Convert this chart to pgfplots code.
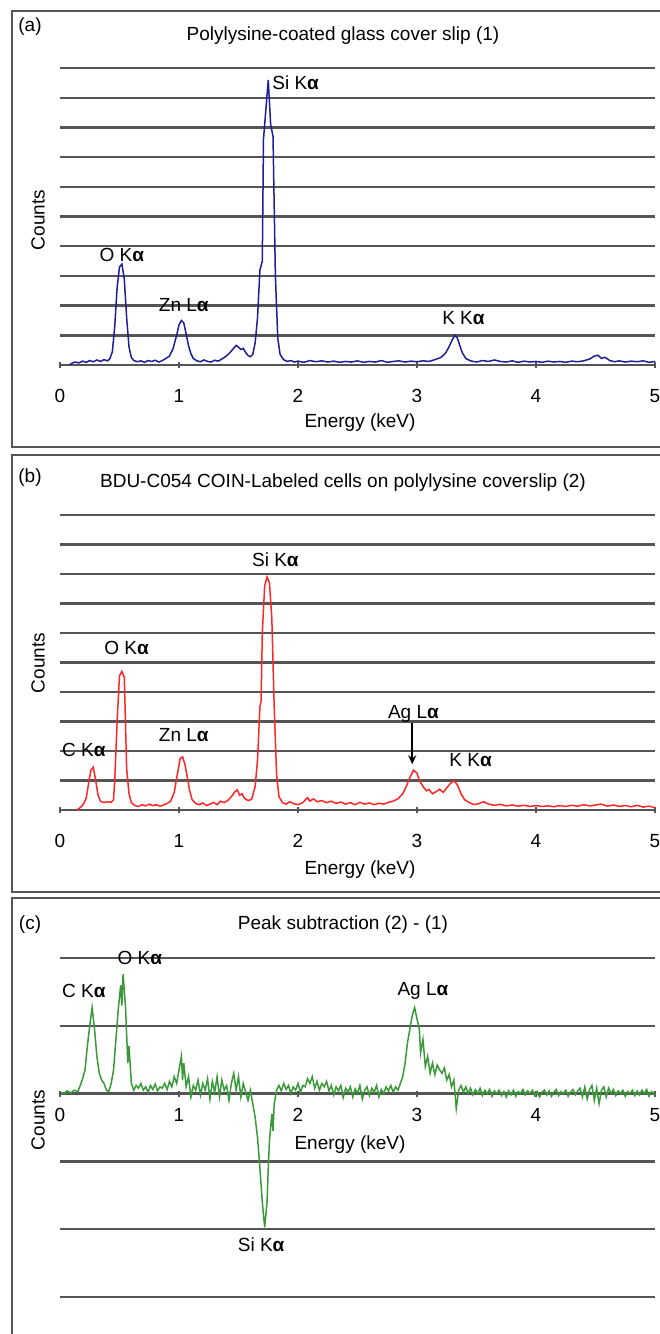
\documentclass[border=0pt]{standalone}
\usepackage{fontspec}
\setmainfont{Liberation Sans}
\usepackage{pgfplots}
\pgfplotsset{compat=1.18}
\usetikzlibrary{arrows.meta}
\definecolor{gridc}{HTML}{555555}
\definecolor{bluec}{HTML}{1E1E9A}
\definecolor{redc}{HTML}{FF2626}
\definecolor{greenc}{HTML}{3A9A3A}
\newcommand{\lab}{\fontsize{19bp}{21bp}\selectfont}
\pgfplotsset{panel/.style={
  scale only axis, width=595bp, clip=false,
  xmin=0, xmax=5,
  axis x line=middle, axis y line=left,
  y axis line style={draw=none},
  x axis line style={-, draw=gridc, line width=2.4bp},
  xtick={0,1,2,3,4,5},
  hide obscured x ticks=false,
  xtick style={draw=gridc, line width=1.4bp},
  ytick style={draw=none},
  yticklabels={},
  major tick length=6bp,
  ymajorgrids, grid style={draw=gridc, line width=2.4bp},
  /pgf/number format/assume math mode=true,
  xticklabel style={font=\lab, anchor=center},
}}
\begin{document}
\begin{tikzpicture}
\useasboundingbox (0bp,0bp) rectangle (660bp,-1334bp);
% frames
\draw[gridc, line width=1.8bp] (12bp,-11bp) rectangle (700bp,-447bp);
\draw[gridc, line width=1.8bp] (12bp,-455bp) rectangle (700bp,-892bp);
\draw[gridc, line width=1.8bp] (12bp,-898bp) rectangle (700bp,-1400bp);

% ---------- (a)
\begin{axis}[panel, at={(60bp,-365bp)}, anchor=south west, height=297bp,
  ymin=0, ymax=10, ytick={1,2,...,10},
  xticklabel style={yshift=-28bp}]
\addplot[bluec, line width=1.5bp] coordinates {
(0.08,0.00)(0.10,0.06)(0.13,0.10)(0.16,0.07)(0.19,0.13)(0.22,0.09)(0.25,0.15)(0.28,0.11)(0.31,0.17)(0.34,0.12)
(0.37,0.18)(0.40,0.14)(0.42,0.22)(0.44,0.45)(0.46,1.30)(0.48,2.60)(0.50,3.30)(0.52,3.40)(0.54,2.90)(0.56,1.60)
(0.58,0.60)(0.60,0.25)(0.62,0.15)(0.65,0.11)(0.68,0.14)(0.71,0.09)(0.74,0.15)(0.77,0.12)(0.80,0.16)(0.83,0.10)
(0.86,0.15)(0.89,0.22)(0.92,0.30)(0.95,0.55)(0.98,1.00)(1.00,1.35)(1.02,1.50)(1.04,1.42)(1.06,1.05)(1.08,0.65)
(1.10,0.38)(1.12,0.22)(1.15,0.14)(1.18,0.11)(1.21,0.17)(1.24,0.12)(1.27,0.10)(1.30,0.16)(1.33,0.13)(1.36,0.20)
(1.39,0.28)(1.42,0.38)(1.45,0.52)(1.48,0.66)(1.50,0.60)(1.52,0.52)(1.54,0.56)(1.56,0.42)(1.58,0.32)(1.60,0.28)
(1.62,0.36)(1.64,0.75)(1.66,1.60)(1.68,3.20)(1.70,3.50)(1.71,7.60)(1.73,8.60)(1.75,9.60)(1.77,8.10)(1.79,7.70)
(1.81,3.00)(1.83,0.90)(1.85,0.35)(1.88,0.18)(1.91,0.12)(1.94,0.15)(1.97,0.10)(2.00,0.13)(2.05,0.09)(2.10,0.15)
(2.15,0.11)(2.20,0.14)(2.25,0.10)(2.30,0.13)(2.35,0.09)(2.40,0.12)(2.45,0.10)(2.50,0.14)(2.55,0.09)(2.60,0.12)
(2.65,0.10)(2.70,0.15)(2.75,0.09)(2.80,0.12)(2.85,0.14)(2.90,0.10)(2.95,0.13)(3.00,0.11)(3.05,0.14)(3.10,0.12)
(3.15,0.18)(3.20,0.25)(3.24,0.40)(3.27,0.62)(3.30,0.88)(3.32,1.00)(3.34,0.90)(3.36,0.65)(3.38,0.42)(3.41,0.22)
(3.45,0.14)(3.50,0.10)(3.55,0.15)(3.60,0.12)(3.65,0.17)(3.70,0.12)(3.75,0.10)(3.80,0.14)(3.85,0.09)(3.90,0.13)
(3.95,0.10)(4.00,0.12)(4.05,0.09)(4.10,0.13)(4.15,0.10)(4.20,0.12)(4.25,0.09)(4.30,0.13)(4.35,0.11)(4.40,0.14)
(4.45,0.20)(4.49,0.30)(4.52,0.33)(4.55,0.22)(4.58,0.26)(4.62,0.15)(4.66,0.11)(4.70,0.14)(4.75,0.10)(4.80,0.13)
(4.85,0.11)(4.90,0.14)(4.95,0.09)(5.00,0.12)};
\node[font=\lab] at (axis cs:1.98,9.5) {Si K\textbf{α}};
\node[font=\lab] at (axis cs:0.52,3.7) {O K\textbf{α}};
\node[font=\lab] at (axis cs:1.04,2.02) {Zn L\textbf{α}};
\node[font=\lab] at (axis cs:3.39,1.58) {K K\textbf{α}};
\end{axis}

% ---------- (b)
\begin{axis}[panel, at={(60bp,-810bp)}, anchor=south west, height=295bp,
  ymin=0, ymax=10, ytick={1,2,...,10},
  xticklabel style={yshift=-28bp}]
\addplot[redc, line width=1.5bp] coordinates {
(0.14,0.00)(0.16,0.05)(0.18,0.12)(0.20,0.22)(0.22,0.40)(0.24,0.90)(0.26,1.35)(0.28,1.45)(0.30,1.00)(0.32,0.50)
(0.34,0.30)(0.37,0.25)(0.40,0.28)(0.43,0.26)(0.45,0.35)(0.46,1.00)(0.48,3.00)(0.50,4.55)(0.52,4.70)(0.54,4.50)
(0.55,3.00)(0.56,1.40)(0.58,0.55)(0.60,0.25)(0.63,0.15)(0.66,0.12)(0.69,0.18)(0.72,0.14)(0.75,0.20)(0.78,0.15)
(0.81,0.18)(0.84,0.13)(0.87,0.17)(0.90,0.22)(0.93,0.30)(0.96,0.60)(0.99,1.30)(1.01,1.75)(1.03,1.80)(1.05,1.55)
(1.07,1.10)(1.09,0.65)(1.11,0.35)(1.14,0.22)(1.17,0.18)(1.20,0.24)(1.23,0.15)(1.26,0.20)(1.29,0.26)(1.32,0.18)
(1.35,0.30)(1.38,0.25)(1.41,0.33)(1.44,0.45)(1.47,0.62)(1.49,0.68)(1.51,0.50)(1.53,0.55)(1.55,0.40)(1.58,0.32)
(1.61,0.36)(1.64,0.80)(1.66,1.70)(1.68,3.50)(1.69,3.70)(1.70,6.00)(1.72,7.60)(1.74,7.90)(1.76,7.70)(1.78,6.50)
(1.80,3.50)(1.82,1.20)(1.84,0.45)(1.87,0.25)(1.90,0.20)(1.93,0.28)(1.96,0.22)(2.00,0.18)(2.04,0.25)(2.08,0.42)
(2.10,0.30)(2.13,0.38)(2.16,0.28)(2.20,0.32)(2.24,0.25)(2.28,0.30)(2.32,0.22)(2.36,0.27)(2.40,0.20)(2.44,0.25)
(2.48,0.18)(2.52,0.26)(2.56,0.20)(2.60,0.24)(2.64,0.18)(2.68,0.23)(2.72,0.20)(2.76,0.26)(2.80,0.30)(2.84,0.38)
(2.88,0.55)(2.91,0.80)(2.94,1.10)(2.97,1.35)(3.00,1.25)(3.02,1.00)(3.05,0.80)(3.08,0.65)(3.10,0.70)(3.13,0.55)
(3.16,0.62)(3.19,0.70)(3.22,0.60)(3.25,0.75)(3.28,0.90)(3.31,1.00)(3.34,0.85)(3.37,0.55)(3.40,0.35)(3.44,0.25)
(3.48,0.18)(3.52,0.22)(3.56,0.28)(3.60,0.20)(3.65,0.16)(3.70,0.19)(3.75,0.14)(3.80,0.17)(3.85,0.13)(3.90,0.16)
(3.95,0.12)(4.00,0.15)(4.05,0.12)(4.10,0.14)(4.15,0.11)(4.20,0.15)(4.25,0.12)(4.30,0.16)(4.35,0.13)(4.40,0.18)
(4.45,0.14)(4.50,0.17)(4.55,0.20)(4.60,0.13)(4.65,0.17)(4.70,0.12)(4.75,0.15)(4.80,0.11)(4.85,0.16)(4.90,0.10)
(4.95,0.13)(5.00,0.08)};
\node[font=\lab] at (axis cs:1.81,8.47) {Si K\textbf{α}};
\node[font=\lab] at (axis cs:0.56,5.49) {O K\textbf{α}};
\node[font=\lab] at (axis cs:0.20,2.03) {C K\textbf{α}};
\node[font=\lab] at (axis cs:1.04,2.54) {Zn L\textbf{α}};
\node[font=\lab] at (axis cs:2.97,3.25) {Ag L\textbf{α}};
\node[font=\lab] at (axis cs:3.45,1.69) {K K\textbf{α}};
\draw[-{Stealth[length=9bp,width=8bp]}, line width=1.8bp] (axis cs:2.96,2.95) -- (axis cs:2.96,1.55);
\end{axis}

% ---------- (c)
\begin{axis}[panel, at={(60bp,-1297bp)}, anchor=south west, height=339bp,
  ymin=-3, ymax=2, ytick={-3,-2,-1,1,2},
  xticklabel style={yshift=-18bp}]
\addplot[greenc, line width=1.5bp] coordinates {
(0.00,0.02)(0.03,0.00)(0.06,0.04)(0.09,0.01)(0.12,0.05)(0.15,0.03)(0.17,0.12)(0.19,0.22)(0.21,0.35)(0.23,0.70)
(0.25,1.00)(0.27,1.27)(0.29,0.95)(0.31,0.55)(0.33,0.30)(0.35,0.20)(0.37,0.15)(0.39,0.05)(0.41,0.03)(0.43,0.15)
(0.45,0.35)(0.47,0.80)(0.49,1.25)(0.51,1.60)(0.52,1.30)(0.53,1.76)(0.55,1.30)(0.57,0.45)(0.58,0.70)(0.60,0.15)
(0.62,0.05)(0.64,0.12)(0.66,0.08)(0.68,0.15)(0.70,0.05)(0.72,0.10)(0.74,0.02)(0.76,0.12)(0.78,0.06)(0.80,0.14)
(0.82,0.04)(0.84,0.10)(0.86,0.08)(0.88,0.15)(0.90,0.06)(0.92,0.18)(0.94,0.10)(0.96,0.25)(0.98,0.15)(1.00,0.35)
(1.02,0.55)(1.03,0.20)(1.04,0.45)(1.06,0.10)(1.08,0.25)(1.10,-0.05)(1.12,0.12)(1.14,0.05)(1.16,0.20)(1.18,-0.02)
(1.20,0.15)(1.22,0.05)(1.24,0.22)(1.26,-0.08)(1.28,0.18)(1.30,0.02)(1.32,0.25)(1.34,-0.05)(1.36,0.20)(1.38,0.05)
(1.40,0.12)(1.42,-0.10)(1.44,0.15)(1.46,0.30)(1.48,0.05)(1.50,0.25)(1.52,-0.05)(1.54,0.15)(1.56,0.02)(1.58,-0.10)
(1.60,0.05)(1.62,-0.15)(1.64,-0.35)(1.66,-0.65)(1.68,-1.10)(1.70,-1.60)(1.72,-1.97)(1.74,-1.60)(1.75,-1.10)(1.76,-0.70)
(1.78,-0.30)(1.79,-0.55)(1.80,-0.15)(1.82,0.05)(1.84,0.12)(1.86,0.04)(1.88,0.15)(1.90,0.06)(1.92,0.12)(1.94,0.00)
(1.96,0.10)(1.98,0.05)(2.00,0.15)(2.02,0.02)(2.04,0.12)(2.06,0.10)(2.08,0.22)(2.10,0.15)(2.12,0.25)(2.14,0.08)
(2.16,0.18)(2.18,0.05)(2.20,0.15)(2.22,0.10)(2.24,0.18)(2.26,0.04)(2.28,0.12)(2.30,-0.02)(2.32,0.10)(2.34,0.04)
(2.36,0.12)(2.38,-0.06)(2.40,0.08)(2.42,0.02)(2.44,0.10)(2.46,-0.05)(2.48,0.07)(2.50,0.00)(2.52,0.12)(2.54,-0.08)
(2.56,0.05)(2.58,0.10)(2.60,-0.03)(2.62,0.08)(2.64,0.02)(2.66,0.12)(2.68,-0.05)(2.70,0.06)(2.72,0.00)(2.74,0.10)
(2.76,0.04)(2.78,0.12)(2.80,0.02)(2.82,0.10)(2.84,0.05)(2.86,0.15)(2.88,0.25)(2.90,0.45)(2.92,0.75)(2.94,0.95)
(2.96,1.15)(2.98,1.27)(3.00,1.10)(3.02,0.95)(3.03,0.60)(3.05,0.80)(3.07,0.40)(3.09,0.55)(3.11,0.30)(3.13,0.45)
(3.15,0.28)(3.17,0.42)(3.19,0.35)(3.21,0.30)(3.23,0.38)(3.25,0.20)(3.27,0.28)(3.29,0.10)(3.31,0.20)(3.33,-0.22)
(3.35,0.05)(3.37,0.12)(3.39,0.02)(3.41,0.10)(3.43,0.00)(3.45,0.08)(3.47,-0.02)(3.49,0.06)(3.51,0.00)(3.53,0.08)
(3.55,-0.03)(3.57,0.05)(3.59,0.00)(3.61,0.06)(3.63,-0.04)(3.65,0.04)(3.67,0.00)(3.69,0.05)(3.71,-0.03)(3.73,0.03)
(3.75,-0.05)(3.77,0.04)(3.79,-0.02)(3.81,0.05)(3.83,-0.04)(3.85,0.03)(3.87,0.00)(3.89,0.06)(3.91,-0.02)(3.93,0.04)
(3.95,0.00)(3.97,0.05)(3.99,-0.03)(4.01,0.03)(4.03,-0.05)(4.05,0.02)(4.07,0.05)(4.09,-0.02)(4.11,0.04)(4.13,-0.04)
(4.15,0.02)(4.17,0.06)(4.19,-0.03)(4.21,0.03)(4.23,0.00)(4.25,0.05)(4.27,-0.04)(4.29,0.02)(4.31,0.06)(4.33,-0.02)
(4.35,0.04)(4.37,0.08)(4.39,-0.05)(4.41,0.10)(4.43,-0.08)(4.45,0.06)(4.47,0.12)(4.49,-0.10)(4.51,0.08)(4.53,-0.15)
(4.55,0.05)(4.57,0.10)(4.59,-0.05)(4.61,0.08)(4.63,0.00)(4.65,0.06)(4.67,-0.03)(4.69,0.04)(4.71,0.00)(4.73,0.05)
(4.75,-0.04)(4.77,0.03)(4.79,0.00)(4.81,0.05)(4.83,-0.03)(4.85,0.04)(4.87,-0.02)(4.89,0.05)(4.91,0.00)(4.93,0.06)
(4.95,-0.04)(4.97,0.03)(5.00,-0.02)};
\node[font=\lab] at (axis cs:0.20,1.51) {C K\textbf{α}};
\node[font=\lab] at (axis cs:0.67,2.0) {O K\textbf{α}};
\node[font=\lab] at (axis cs:3.05,1.51) {Ag L\textbf{α}};
\node[font=\lab] at (axis cs:1.69,-2.23) {Si K\textbf{α}};
\end{axis}

% text
\node[font=\lab] at (30bp,-27bp) {(a)};
\node[font=\lab] at (343bp,-36bp) {Polylysine-coated glass cover slip (1)};
\node[font=\lab] at (360bp,-423bp) {Energy (keV)};
\node[font=\lab, rotate=90] at (38bp,-220bp) {Counts};

\node[font=\lab] at (30bp,-478bp) {(b)};
\node[font=\lab] at (343bp,-483bp) {BDU-C054 COIN-Labeled cells on polylysine coverslip (2)};
\node[font=\lab] at (360bp,-870bp) {Energy (keV)};
\node[font=\lab, rotate=90] at (38bp,-663bp) {Counts};

\node[font=\lab] at (30bp,-925bp) {(c)};
\node[font=\lab] at (343bp,-925bp) {Peak subtraction (2) - (1)};
\node[font=\lab] at (350bp,-1145bp) {Energy (keV)};
\node[font=\lab, rotate=90] at (38bp,-1120bp) {Counts};
\end{tikzpicture}
\end{document}
